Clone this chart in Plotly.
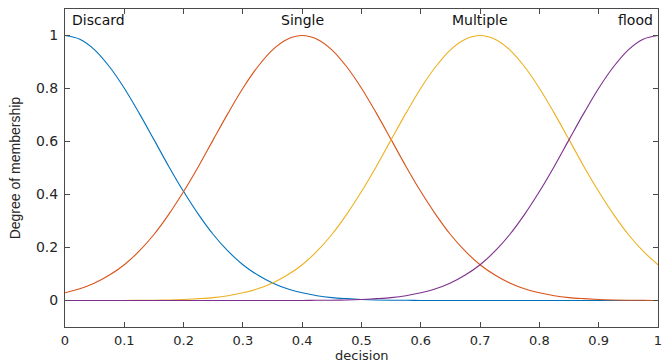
import plotly.graph_objects as go

# x positions (decision)
x_vals = [round(i * 0.025, 3) for i in range(41)]

discard = [1.000, 0.986, 0.946, 0.882, 0.801, 0.707, 0.607, 0.506, 0.411, 0.325,
           0.249, 0.186, 0.135, 0.096, 0.066, 0.044, 0.029, 0.018, 0.011, 0.007,
           0.004, 0.002, 0.001, 0.001, 0.0, 0.0, 0.0, 0.0, 0.0, 0.0,
           0.0, 0.0, 0.0, 0.0, 0.0, 0.0, 0.0, 0.0, 0.0, 0.0, 0.0]
single = [0.029, 0.044, 0.066, 0.096, 0.135, 0.186, 0.249, 0.325, 0.411, 0.506,
          0.607, 0.707, 0.801, 0.882, 0.946, 0.986, 1.000, 0.986, 0.946, 0.882,
          0.801, 0.707, 0.607, 0.506, 0.411, 0.325, 0.249, 0.186, 0.135, 0.096,
          0.066, 0.044, 0.029, 0.018, 0.011, 0.007, 0.004, 0.002, 0.001, 0.001, 0.0]
multiple = [0.0, 0.0, 0.0, 0.0, 0.0, 0.001, 0.001, 0.002, 0.004, 0.007,
            0.011, 0.018, 0.029, 0.044, 0.066, 0.096, 0.135, 0.186, 0.249, 0.325,
            0.411, 0.506, 0.607, 0.707, 0.801, 0.882, 0.946, 0.986, 1.000, 0.986,
            0.946, 0.882, 0.801, 0.707, 0.607, 0.506, 0.411, 0.325, 0.249, 0.186, 0.135]
flood = [0.0, 0.0, 0.0, 0.0, 0.0, 0.0, 0.0, 0.0, 0.0, 0.0,
         0.0, 0.0, 0.0, 0.0, 0.0, 0.0, 0.0, 0.001, 0.001, 0.002,
         0.004, 0.007, 0.011, 0.018, 0.029, 0.044, 0.066, 0.096, 0.135, 0.186,
         0.249, 0.325, 0.411, 0.506, 0.607, 0.707, 0.801, 0.882, 0.946, 0.986, 1.000]

series_names = ["Discard", "Single", "Multiple", "flood"]
series_data = [discard, single, multiple, flood]
series_colors = ["#0072BD", "#D95319", "#EDB120", "#7E2F8E"]
label_x = [0.0, 0.4, 0.7, 1.0]
label_anchor = ["left", "center", "center", "right"]
label_shift = [5, 0, 0, -3]

x_ticks = [0, 0.1, 0.2, 0.3, 0.4, 0.5, 0.6, 0.7, 0.8, 0.9, 1]
x_ticktext = ["0", "0.1", "0.2", "0.3", "0.4", "0.5", "0.6", "0.7", "0.8", "0.9", "1"]
y_ticks = [0, 0.2, 0.4, 0.6, 0.8, 1]
y_ticktext = ["0", "0.2", "0.4", "0.6", "0.8", "1"]

FONT = "DejaVu Sans, Verdana, sans-serif"
AXC = "#4a4a4a"
TXC = "#262626"

fig = go.Figure()
for name, ys, col in zip(series_names, series_data, series_colors):
    fig.add_trace(go.Scatter(x=x_vals, y=ys, mode="lines", name=name,
                             line=dict(color=col, width=1.1, shape="spline", smoothing=1.0),
                             showlegend=False, hoverinfo="skip"))

for name, lx, anc, sh in zip(series_names, label_x, label_anchor, label_shift):
    fig.add_annotation(x=lx, y=1.058, xref="x", yref="y", text=name, showarrow=False,
                       xanchor=anc, yanchor="middle", xshift=sh,
                       font=dict(family=FONT, size=14, color="#111111"))

fig.add_annotation(x=-50 / 597, y=0.5, xref="paper", yref="paper",
                   text="Degree of membership", textangle=-90, showarrow=False,
                   xanchor="center", yanchor="middle",
                   font=dict(family="Liberation Sans Narrow, Arial Narrow, Liberation Sans, Arial, sans-serif",
                             size=14, color=TXC))
fig.add_annotation(x=0.5, y=-20 / 318, xref="paper", yref="paper",
                   text="decision", showarrow=False, xanchor="center", yanchor="top",
                   borderpad=0,
                   font=dict(family=FONT, size=13, color=TXC))

fig.update_layout(
    width=662, height=362,
    margin=dict(l=65, r=0, t=9, b=35),
    paper_bgcolor="white", plot_bgcolor="white",
    font=dict(family=FONT, size=14, color=TXC),
)
fig.update_xaxes(range=[0, 1], tickvals=x_ticks, ticktext=x_ticktext,
                 showgrid=False, zeroline=False, showline=True, linecolor=AXC, linewidth=1,
                 ticks="inside", ticklen=5, tickcolor=AXC, mirror="ticks",
                 ticklabelstandoff=1, ticklabeloverflow="allow",
                 tickfont=dict(family=FONT, size=13, color=TXC))
fig.update_yaxes(range=[-0.1, 1.1], tickvals=y_ticks, ticktext=y_ticktext,
                 showgrid=False, zeroline=False, showline=True, linecolor=AXC, linewidth=1,
                 ticks="inside", ticklen=5, tickcolor=AXC, mirror="ticks",
                 ticklabelstandoff=3,
                 tickfont=dict(family=FONT, size=14, color=TXC))

fig.write_html("out.html")
